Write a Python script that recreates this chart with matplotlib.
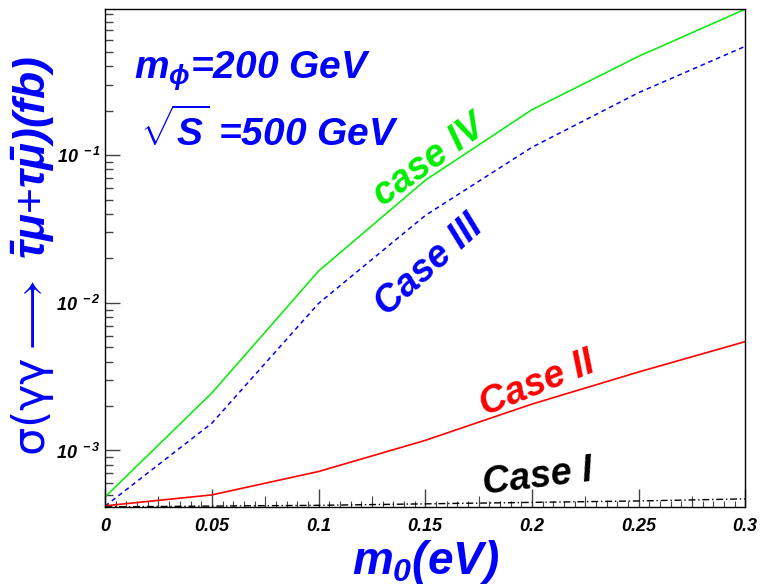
import matplotlib
matplotlib.use('Agg')
import matplotlib.pyplot as plt
import numpy as np
from matplotlib.ticker import LogLocator, FixedLocator, NullFormatter, FuncFormatter

plt.rcParams['font.family'] = 'Liberation Sans'
plt.rcParams['mathtext.fontset'] = 'custom'
plt.rcParams['mathtext.rm'] = 'Liberation Sans:bold:italic'
plt.rcParams['mathtext.it'] = 'Liberation Sans:bold:italic'
plt.rcParams['mathtext.bf'] = 'Liberation Sans:bold:italic'
plt.rcParams['mathtext.sf'] = 'DejaVu Sans'
plt.rcParams['mathtext.default'] = 'it'

# data
m0 = [0.0, 0.05, 0.1, 0.15, 0.2, 0.25, 0.3]
case_iv = [4.85e-4, 2.45e-3, 1.64e-2, 6.75e-2, 0.203, 0.467, 0.975]
case_iii = [4.2e-4, 1.53e-3, 9.9e-3, 3.9e-2, 0.113, 0.265, 0.546]
case_ii = [4.22e-4, 5.0e-4, 7.2e-4, 1.17e-3, 2.06e-3, 3.4e-3, 5.46e-3]
case_i = [4.15e-4, 4.2e-4, 4.25e-4, 4.35e-4, 4.45e-4, 4.55e-4, 4.7e-4]

x_ticks = [0, 0.05, 0.1, 0.15, 0.2, 0.25, 0.3]
x_ticklabels = ['0', '0.05', '0.1', '0.15', '0.2', '0.25', '0.3']

green = '#00ee00'
blue = '#0000ff'
red = '#ff0000'

fig = plt.figure(figsize=(7.62, 5.88), dpi=100)
ax = fig.add_axes([0.138, 0.138, 0.840, 0.847])

ax.plot(m0, case_iv, color=green, lw=1.1)
ax.plot(m0, case_iii, color=blue, lw=1.1, ls=(0, (3, 2.5)))
ax.plot(m0, case_ii, color=red, lw=1.2)
ax.plot(m0, case_i, color='black', lw=1.0, ls=(0, (5, 2, 1, 2)))

ax.set_yscale('log')
ax.set_xlim(0, 0.3)
ax.set_ylim(4.15e-4, 0.98)

# ticks
ax.set_xticks(x_ticks)
ax.set_xticklabels(x_ticklabels)
ax.xaxis.set_minor_locator(FixedLocator(np.arange(0, 0.3001, 0.005)))
ax.yaxis.set_major_locator(LogLocator(base=10))
ax.yaxis.set_minor_locator(LogLocator(base=10, subs=np.arange(2, 10)))
ax.yaxis.set_minor_formatter(NullFormatter())
ax.yaxis.set_major_formatter(FuncFormatter(lambda v, p: r'$10^{\ %d}$' % round(np.log10(v))))
ax.tick_params(axis='both', which='both', direction='in', color='#444444',
               top=False, right=False)
ax.tick_params(axis='y', which='major', length=11, width=1, pad=3, labelsize=13)
ax.tick_params(axis='y', which='minor', length=6, width=1)
ax.tick_params(axis='x', which='major', length=13, width=1, pad=8, labelsize=13)
ax.tick_params(axis='x', which='minor', length=4, width=0.8)
for lab in ax.get_xticklabels():
    lab.set_fontweight('bold')
    lab.set_fontstyle('italic')

# medium ticks halfway between the labelled ones
sec = ax.secondary_xaxis('bottom')
sec.set_xticks(np.arange(0.025, 0.3, 0.05))
sec.tick_params(direction='in', length=8, width=0.8, color='#444444', labelbottom=False)
sec.spines['bottom'].set_visible(False)

for s in ax.spines.values():
    s.set_linewidth(1.0)

ax.set_xlabel(r'$m_0(eV)$', color=blue, fontsize=33, labelpad=2)
fig.text(0.043, 0.565,
         r'$\mathsf{\sigma(\gamma\gamma}\longrightarrow\ \bar{\tau}\mu$+$\tau\bar{\mu})(fb)$',
         color=blue, fontsize=32, rotation=90, ha='center', va='center')

ax.text(0.045, 0.875, r'$m_{\phi}$=200 GeV', transform=ax.transAxes, color=blue,
        fontsize=28, fontweight='bold', fontstyle='italic', va='center')
ax.text(0.055, 0.755, r'$\sqrt{S}$ =500 GeV', transform=ax.transAxes, color=blue,
        fontsize=28, fontweight='bold', fontstyle='italic', va='center')

ax.text(0.152, 0.092, 'case IV', color=green, fontsize=27, fontweight='bold',
        fontstyle='italic', rotation=36, ha='center', va='center')
ax.text(0.152, 0.0178, 'Case III', color=blue, fontsize=27, fontweight='bold',
        fontstyle='italic', rotation=42, ha='center', va='center')
ax.text(0.2025, 0.0028, 'Case II', color=red, fontsize=27, fontweight='bold',
        fontstyle='italic', rotation=22, ha='center', va='center')
ax.text(0.2025, 0.00066, 'Case I', color='black', fontsize=27, fontweight='bold',
        fontstyle='italic', rotation=7, ha='center', va='center')

fig.savefig('out.png', dpi=100)
